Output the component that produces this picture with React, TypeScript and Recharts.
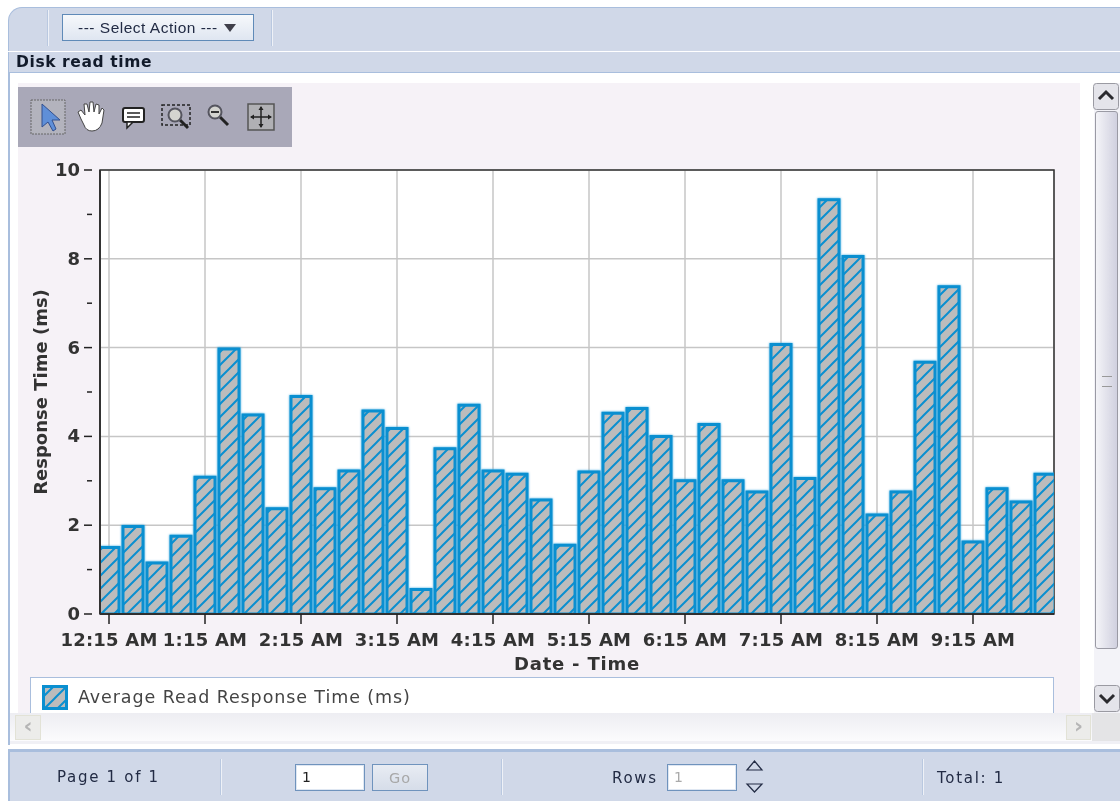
// App.tsx - Disk read time panel
import React from 'react';
import { BarChart, Bar, XAxis, YAxis, CartesianGrid, Legend } from 'recharts';

const times = [
  '12:15 AM', '12:30 AM', '12:45 AM', '1:00 AM', '1:15 AM', '1:30 AM', '1:45 AM', '2:00 AM',
  '2:15 AM', '2:30 AM', '2:45 AM', '3:00 AM', '3:15 AM', '3:30 AM', '3:45 AM', '4:00 AM',
  '4:15 AM', '4:30 AM', '4:45 AM', '5:00 AM', '5:15 AM', '5:30 AM', '5:45 AM', '6:00 AM',
  '6:15 AM', '6:30 AM', '6:45 AM', '7:00 AM', '7:15 AM', '7:30 AM', '7:45 AM', '8:00 AM',
  '8:15 AM', '8:30 AM', '8:45 AM', '9:00 AM', '9:15 AM', '9:30 AM', '9:45 AM', '10:00 AM',
];
const readTimes = [
  1.5, 1.97, 1.15, 1.75, 3.08, 5.97, 4.48, 2.37, 4.9, 2.82,
  3.22, 4.57, 4.18, 0.55, 3.72, 4.7, 3.22, 3.15, 2.57, 1.55,
  3.2, 4.52, 4.63, 4.0, 3.0, 4.27, 3.0, 2.75, 6.07, 3.05,
  9.33, 8.05, 2.23, 2.75, 5.67, 7.37, 1.62, 2.82, 2.52, 3.15,
];
const yTicks = [0, 1, 2, 3, 4, 5, 6, 7, 8, 9, 10];
const yGrid = [0, 2, 4, 6, 8, 10];
const seriesName = 'Average Read Response Time (ms)';

const chartData = times.map((time, i) => ({ time, value: readTimes[i] }));

const sans = '"DejaVu Sans", sans-serif';
const panelBlue = '#d0d8e8';
const borderBlue = '#a9bedd';
const textDark = '#333333';

const box = (left, top, width, height, extra = {}) => ({
  position: 'absolute', left, top, width, height, boxSizing: 'border-box', ...extra,
});

const pagerText = { fontFamily: sans, fontSize: 15, letterSpacing: 1.7, color: '#222b44', whiteSpace: 'nowrap' };

// bars stick out of the plot at both ends, the original clips them
const pageCss = `
body { margin: 0 }
.recharts-bar { clip-path: url(#plotClip) }
.recharts-bar-rectangle path { filter: drop-shadow(0 0 0.8px #3aaae2) }
`;

// label every even tick, shorter mark on the odd ones
const YTick = ({ x, y, payload }) => {
  const major = payload.value % 2 === 0;
  return (
    <g>
      <line x1={major ? x - 8 : x - 5} x2={x} y1={y} y2={y} stroke="#222" strokeWidth={1.5} />
      {major && (
        <text x={x - 12} y={y + 6} textAnchor="end" fontFamily={sans} fontWeight="bold" fontSize={18} fill={textDark}>
          {payload.value}
        </text>
      )}
    </g>
  );
};

const LegendContent = () => (
  <div style={{ height: 40, background: '#fff', border: `1px solid ${borderBlue}`, boxSizing: 'border-box', display: 'flex', alignItems: 'center', paddingLeft: 11, paddingBottom: 0 }}>
    <svg width={26} height={25} style={{ marginRight: 10 }}>
      <rect x={1.5} y={1.5} width={23} height={22} fill="url(#hatch)" stroke="#0a8fd0" strokeWidth={3} />
    </svg>
    <span style={{ fontFamily: sans, fontSize: 17.5, letterSpacing: 0.9, color: '#444' }}>{seriesName}</span>
  </div>
);

const Glass = ({ x, y, minus }) => (
  <g>
    <line x1={x + 5} y1={y + 5} x2={x + 13} y2={y + 13} stroke="#222" strokeWidth={3} />
    <circle cx={x} cy={y} r={6.5} fill="#d4d4d0" stroke="#55555f" strokeWidth={2} />
    {minus && <line x1={x - 4} x2={x + 4} y1={y} y2={y} stroke="#333" strokeWidth={2} />}
  </g>
);

const Toolbar = () => (
  <svg width={274} height={60} style={box(18, 87, 274, 60, { background: '#a9a8b8' })}>
    <rect x={13} y={13} width={34} height={34} fill="#b3b3bd" stroke="#666" strokeDasharray="2 1" />
    <path d="M24 17 L24 40 L30 35 L35 44 L38 42 L34 33 L42 33 Z" fill="#5f8fd8" stroke="#33508f" strokeWidth={1} />
    <path d="M63 32 L60 25 L63 23 L67 28 L66 17 L69 17 L71 25 L72 15 L75 15 L76 25 L78 17 L81 18 L81 27 L84 21 L86 23 L84 36 Q81 44 74 44 Q68 44 66 38 Z" fill="#fff" stroke="#444" strokeWidth={1} />
    <rect x={105} y={21} width={21} height={14} rx={2} fill="#fff" stroke="#222" strokeWidth={2} />
    <path d="M109 35 L109 41 L115 35 Z" fill="#fff" stroke="#222" strokeWidth={1.5} />
    <path d="M109 26 H122 M109 30 H122" stroke="#222" strokeWidth={1.5} />
    <rect x={144} y={18} width={28} height={20} fill="none" stroke="#222" strokeWidth={1.5} strokeDasharray="3 2" />
    <Glass x={157} y={28} />
    <Glass x={197} y={25} minus />
    <rect x={230} y={17} width={26} height={26} fill="#b0b0b4" stroke="#555" strokeWidth={1.5} />
    <path d="M243 20 V40 M233 30 H253" stroke="#222" strokeWidth={1.5} />
    <path d="M243 19 l-2.5 4 h5 Z M243 41 l-2.5 -4 h5 Z M232 30 l4 -2.5 v5 Z M254 30 l-4 -2.5 v5 Z" fill="#222" />
  </svg>
);

const Separator = ({ x, top, height }) => (
  <div style={box(x, top, 2, height, { background: '#eef1f7', borderLeft: '1px solid #b9c8e0' })} />
);

const InputBox = ({ x, value, color }) => (
  <div style={box(x, 764, 70, 27, { background: '#fff', border: '1px solid #6f93bd', boxShadow: 'inset 0 0 0 1px #dfe7f2', fontFamily: sans, fontSize: 14, color, padding: '4px 0 0 6px' })}>
    {value}
  </div>
);

const ScrollBtn = ({ x, y, d }) => (
  <svg width={26} height={27} style={box(x, y, 26, 27)}>
    <rect x={0.5} y={0.5} width={25} height={26} rx={3} fill="#e4e4ea" stroke="#9a9aa2" />
    <path d={d} fill="none" stroke="#2a2a2e" strokeWidth={3} />
  </svg>
);

const arrowBtn = { background: '#ececea', border: '1px solid #e2e2d6', color: '#b5b5b5', fontFamily: sans, fontWeight: 'bold', fontSize: 22, lineHeight: '20px', textAlign: 'center' };

export default function App() {
  return (
    <div style={{ position: 'relative', width: 1120, height: 801, overflow: 'hidden', background: '#fff', filter: 'blur(0.5px)' }}>
      <style>{pageCss}</style>

      {/* header bars */}
      <div style={box(8, 7, 1112, 44, { background: panelBlue, borderTop: `1px solid ${borderBlue}`, borderLeft: `1px solid ${borderBlue}`, borderTopLeftRadius: 14 })} />
      <Separator x={47} top={10} height={36} />
      <Separator x={271} top={10} height={36} />
      <div style={box(62, 14, 192, 27, { background: 'linear-gradient(#f6f8fb,#dfe6f1)', border: '1px solid #5f8ab8', fontFamily: '"Liberation Sans", sans-serif', fontSize: 15.5, letterSpacing: 0.5, color: '#222b44', paddingTop: 4, paddingLeft: 15, whiteSpace: 'nowrap' })}>
        --- Select Action ---
        <svg width={13} height={9} style={{ marginLeft: 6 }}><path d="M0 0 H12 L6 8 Z" fill="#3f3f4a" /></svg>
      </div>
      <div style={box(8, 52, 1112, 21, { background: panelBlue, borderLeft: `1px solid ${borderBlue}`, borderBottom: `1px solid ${borderBlue}`, fontFamily: sans, fontWeight: 'bold', fontSize: 15.5, letterSpacing: 0.6, color: '#111a2a', padding: '0 0 0 7px', lineHeight: '20px' })}>
        Disk read time
      </div>

      {/* left frame and tinted chart area */}
      <div style={box(8, 73, 2, 672, { background: borderBlue })} />
      <div style={box(18, 83, 1062, 632, { background: '#f6f2f7' })} />

      <Toolbar />

      <div style={box(0, 0, 1120, 801)}>
        <BarChart width={1120} height={801} data={chartData} barCategoryGap={2} margin={{ top: 170, right: 66, bottom: 147, left: 20 }}>
          <defs>
            <pattern id="hatch" patternUnits="userSpaceOnUse" width={13} height={13}>
              <rect width={13} height={13} fill="#bcbcbc" />
              <path d="M-2 15 L15 -2 M-8 8 L8 -8 M5 21 L21 5" stroke="#0a8fd0" strokeWidth={2} />
            </pattern>
            <clipPath id="plotClip">
              <rect x={100} y={165} width={954} height={448} />
            </clipPath>
          </defs>
          <CartesianGrid fill="#fff" stroke="#c6c6c6" strokeWidth={1.5} horizontalValues={yGrid} />
          <rect x={100} y={170} width={954} height={444} fill="none" stroke="#333" strokeWidth={1.5} />
          <XAxis
            dataKey="time"
            interval={3}
            height={40}
            padding={{ left: -3, right: -3 }}
            stroke="#222"
            strokeWidth={1.5}
            tickSize={10}
            tickMargin={9}
            tick={{ fontFamily: sans, fontWeight: 'bold', fontSize: 18, letterSpacing: 0.2, fill: textDark }}
            label={{ value: 'Date - Time', position: 'insideBottom', offset: -16, fontFamily: sans, fontWeight: 'bold', fontSize: 18, letterSpacing: 0.8, fill: textDark }}
          />
          <YAxis
            width={80}
            domain={[0, 10]}
            ticks={yTicks}
            interval={0}
            stroke="#333"
            strokeWidth={2}
            tickLine={false}
            tick={YTick}
            label={{ value: 'Response Time (ms)', angle: -90, position: 'insideLeft', offset: 21, dy: 0, style: { textAnchor: 'middle' }, fontFamily: sans, fontWeight: 'bold', fontSize: 18, fill: textDark }}
          />
          <Legend
            layout="horizontal"
            verticalAlign="middle"
            align="center"
            wrapperStyle={{ left: 30, top: 677, width: 1024, height: 40 }}
            content={LegendContent}
          />
          <Bar dataKey="value" name={seriesName} fill="url(#hatch)" stroke="#0a8fd0" strokeWidth={3} isAnimationActive={false} />
        </BarChart>
      </div>

      {/* scrollbars */}
      <div style={box(1094, 83, 26, 630, { background: '#f3f3f8' })} />
      <ScrollBtn x={1093} y={83} d="M6 16 L13 9 L20 16" />
      <div style={box(1095, 111, 23, 538, { background: 'linear-gradient(90deg,#f4f4f8,#d0d0df)', border: '1px solid #9a9aa4', borderRadius: 3, zIndex: 1 })}>
        <div style={{ position: 'absolute', left: 6, top: 264, width: 10, height: 9, borderTop: '1px solid #999', borderBottom: '1px solid #999' }} />
      </div>
      <ScrollBtn x={1094} y={685} d="M6 10 L13 17 L20 10" />
      <div style={box(10, 713, 1110, 28, { background: 'linear-gradient(#ededf2,#fbfbfd)' })} />
      <div style={box(1092, 713, 28, 28, { background: '#e4e4e6' })} />
      <div style={box(15, 715, 26, 25, arrowBtn)}>&lsaquo;</div>
      <div style={box(1066, 715, 25, 25, arrowBtn)}>&rsaquo;</div>
      <div style={box(10, 741, 1110, 3, { background: '#f0f0f5' })} />

      {/* paging bar */}
      <div style={box(8, 749, 1112, 52, { background: panelBlue, borderTop: `3px solid ${borderBlue}`, borderLeft: `2px solid ${borderBlue}` })} />
      <Separator x={220} top={759} height={36} />
      <Separator x={501} top={759} height={36} />
      <Separator x={922} top={759} height={36} />
      <div style={box(57, 768, 120, 20, pagerText)}>Page 1 of 1</div>
      <InputBox x={295} value="1" color="#222" />
      <div style={box(372, 764, 56, 27, { background: 'linear-gradient(#e8ecf3,#d6dde9)', border: '1px solid #6f93bd', fontFamily: sans, fontSize: 14.5, letterSpacing: 1, color: '#a8a8a8', textAlign: 'center', paddingTop: 5 })}>Go</div>
      <div style={box(612, 769, 50, 20, pagerText)}>Rows</div>
      <InputBox x={667} value="1" color="#aaa" />
      <svg width={20} height={34} style={box(745, 759, 20, 34)}>
        <path d="M2 11 L9.5 2 L17 11 Z M2 25 L9.5 33 L17 25 Z" fill="none" stroke="#222b44" strokeWidth={1.2} />
      </svg>
      <div style={box(937, 769, 100, 20, pagerText)}>Total: 1</div>
    </div>
  );
}
